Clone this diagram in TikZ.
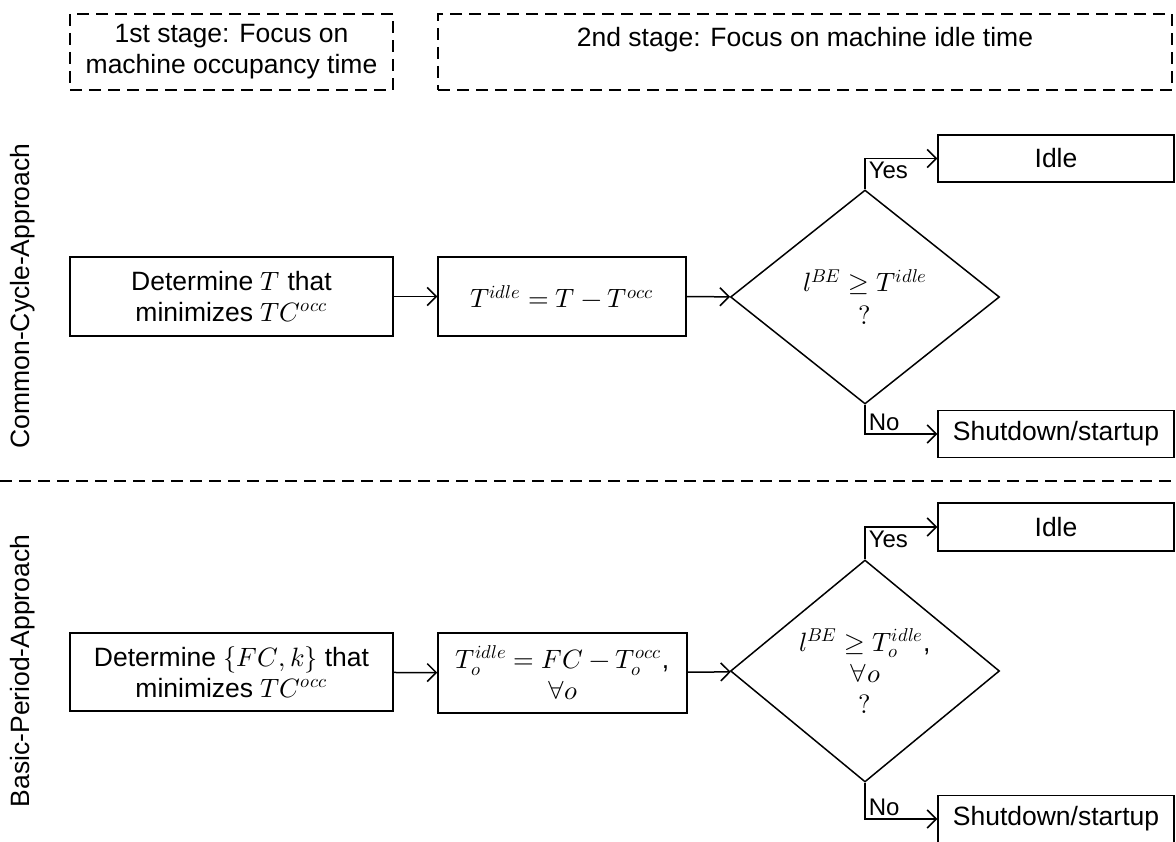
\documentclass[tikz,border=0pt]{standalone}
\usepackage{amsmath}
\usepackage{fontspec}
\usepackage{unicode-math}
\setmainfont{Liberation Sans}
\setmathfont{Latin Modern Math}
\usetikzlibrary{positioning,shapes.geometric,arrows.meta}
\tikzset{
box/.style={draw, line width=1.5pt, inner sep=0pt, align=center, minimum height=79},
stagebox/.style={draw, line width=1.2pt, dash pattern=on 12pt off 7pt, inner sep=0pt, align=center, minimum height=76},
decision/.style={draw, diamond, line width=1.5pt, inner sep=0pt, align=center, minimum width=269, minimum height=214},
flow/.style={line width=1.5pt, -{Straight Barb[length=9pt, width=18pt, line width=1.5pt]}},
answer/.style={font=\fontsize{24}{28}\selectfont, inner sep=3pt}
}

\begin{document}
\begin{tikzpicture}[x=1pt, y=-1pt, font=\fontsize{26.5}{31}\selectfont]
  \useasboundingbox (0,0) rectangle (1176,842);
  \node[stagebox, minimum width=323] (stage1) at (231.5,52) {1st stage: Focus on\\machine occupancy time};
  \node[stagebox, minimum width=734] (stage2) at (805,52) {2nd stage: Focus on machine idle time\\ \mbox{}};
  \node[rotate=90] (cca) at (23,296) {Common-Cycle-Approach};
  \node[rotate=90] (bpa) at (23,671) {Basic-Period-Approach};
  \draw[line width=1.2pt, dash pattern=on 12pt off 7pt] (0,481) -- (1176,481);

  \node[box, minimum width=323] (detT) at (231.5,296.5) {Determine $T$ that\\minimizes $TC^{occ}$};
  \node[box, minimum width=248] (idleT) at (562,296.5) {$T^{idle}=T-T^{occ}$};
  \node[decision] (testT) at (865,297) {$l^{BE}\geq T^{idle}$\\[2pt]$?$};
  \node[box, minimum width=236, minimum height=47] (idleA) at (1056,158.5) {Idle};
  \node[box, minimum width=236, minimum height=47] (shutA) at (1056,434) {Shutdown/startup};
  \draw[flow] (detT) -- (idleT);
  \draw[flow] (idleT) -- (testT);
  \draw[flow] (testT.north) |- node[pos=0.5, answer, anchor=north west] (yesA) {Yes} (idleA);
  \draw[flow] (testT.south) |- node[pos=0.5, answer, anchor=south west] (noA) {No} (shutA);

  \node[box, minimum width=323, minimum height=78] (detFC) at (231.5,672) {Determine $\{FC,k\}$ that\\minimizes $TC^{occ}$};
  \node[box, minimum width=249, minimum height=80] (idleFC) at (562.5,673) {$T_o^{idle}=FC-T_o^{occ}$,\\$\forall o$};
  \node[decision, minimum height=222] (testFC) at (865,671) {$l^{BE}\geq T_o^{idle}$,\\$\forall o$\\$?$};
  \node[box, minimum width=236, minimum height=48] (idleB) at (1056,527) {Idle};
  \node[box, minimum width=236, minimum height=47] (shutB) at (1056,819) {Shutdown/startup};
  \draw[flow] (detFC) -- (idleFC);
  \draw[flow] (idleFC) -- (testFC);
  \draw[flow] (testFC.north) |- node[pos=0.5, answer, anchor=north west] (yesB) {Yes} (idleB);
  \draw[flow] (testFC.south) |- node[pos=0.5, answer, anchor=south west] (noB) {No} (shutB);
\end{tikzpicture}
\end{document}
